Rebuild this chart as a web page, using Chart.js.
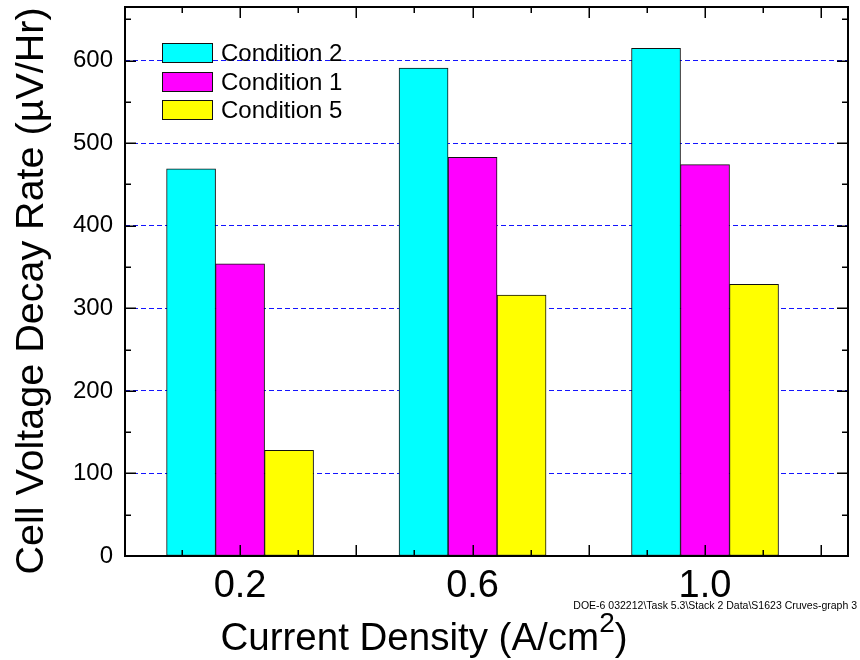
<!DOCTYPE html>
<html><head><meta charset="utf-8">
<script src="https://cdn.jsdelivr.net/npm/chart.js@4/dist/chart.umd.min.js"></script>
<style>html,body{margin:0;padding:0;background:#fff}canvas{display:block}</style>
</head><body>
<canvas id="c" width="860" height="660"></canvas>
<script>
const categories = ['0.2', '0.6', '1.0'];
const seriesNames = ['Condition 2', 'Condition 1', 'Condition 5'];
const condition2 = [469, 591, 615];
const condition1 = [354, 483, 474];
const condition5 = [128, 316, 329];
const yTickValues = [0, 100, 200, 300, 400, 500, 600];
const yTitle = 'Cell Voltage Decay Rate (\u00B5V/Hr)';
const xTitleMain = 'Current Density (A/cm';
const xTitleSup = '2';
const xTitleEnd = ')';
const footnote = 'DOE-6 032212\\Task 5.3\\Stack 2 Data\\S1623 Cruves-graph 3';

const FONT = "'Liberation Sans', Arial, Helvetica, sans-serif";
const colors = ['#00FFFF', '#FF00FF', '#FFFF00'];
const seriesValues = [condition2, condition1, condition5];

const datasets = seriesNames.map((name, k) => ({
  label: name,
  data: categories.map((c, i) => ({ x: i + 1, y: seriesValues[k][i] })),
  backgroundColor: colors[k],
  borderColor: '#111',
  borderWidth: 1,
  borderSkipped: false,
  barThickness: 49,
  grouped: true
}));

const decor = {
  id: 'decor',
  afterDatasetsDraw(chart) {
    const { ctx, chartArea: a, scales: { x, y } } = chart;
    ctx.save();
    ctx.strokeStyle = '#000';
    ctx.lineWidth = 1.5;
    const seg = (x1, y1, x2, y2) => { ctx.beginPath(); ctx.moveTo(x1, y1); ctx.lineTo(x2, y2); ctx.stroke(); };
    // y ticks (inward, both sides)
    for (let v = 50; v < y.max; v += 50) {
      const p = Math.round(y.getPixelForValue(v)) + 0.25;
      const L = v % 100 === 0 ? 11 : 6;
      seg(a.left, p, a.left + L, p);
      seg(a.right, p, a.right - L, p);
    }
    // x ticks (inward, bottom and top)
    for (let v = 0.75; v < x.max; v += 0.25) {
      const p = Math.round(x.getPixelForValue(v)) + 0.25;
      const L = Math.abs(v * 2 - Math.round(v * 2)) < 1e-6 ? 11 : 6;
      seg(p, a.bottom, p, a.bottom - L);
      seg(p, a.top, p, a.top + L);
    }
    // frame
    ctx.lineWidth = 2;
    ctx.strokeRect(a.left, a.top, a.right - a.left, a.bottom - a.top);

    // legend
    const lx = a.left + 37, ly = a.top + 36, step = 28.7;
    ctx.font = '24px ' + FONT;
    ctx.textBaseline = 'middle';
    ctx.textAlign = 'left';
    chart.data.datasets.forEach((ds, i) => {
      const by = Math.round(ly + i * step);
      ctx.fillStyle = ds.backgroundColor;
      ctx.fillRect(lx, by, 51, 20);
      ctx.lineWidth = 1;
      ctx.strokeStyle = '#111';
      ctx.strokeRect(lx + 0.5, by + 0.5, 50, 19);
      ctx.fillStyle = '#000';
      ctx.fillText(ds.label, lx + 59, by + 11);
    });

    // y title
    ctx.save();
    ctx.font = '39.5px ' + FONT;
    ctx.fillStyle = '#000';
    ctx.textAlign = 'center';
    ctx.textBaseline = 'alphabetic';
    ctx.translate(43, 291);
    ctx.rotate(-Math.PI / 2);
    ctx.fillText(yTitle, 0, 0);
    ctx.restore();

    // x title with superscript
    ctx.fillStyle = '#000';
    ctx.textBaseline = 'alphabetic';
    ctx.textAlign = 'left';
    const mainFont = '38.5px ' + FONT, supFont = '28px ' + FONT;
    ctx.font = mainFont; const w1 = ctx.measureText(xTitleMain).width; const w3 = ctx.measureText(xTitleEnd).width;
    ctx.font = supFont; const w2 = ctx.measureText(xTitleSup).width;
    let tx = 424 - (w1 + w2 + w3) / 2;
    ctx.font = mainFont; ctx.fillText(xTitleMain, tx, 650); tx += w1;
    ctx.font = supFont; ctx.fillText(xTitleSup, tx, 632); tx += w2;
    ctx.font = mainFont; ctx.fillText(xTitleEnd, tx, 650);

    // footnote
    ctx.font = '10.5px ' + FONT;
    ctx.textAlign = 'right';
    ctx.fillText(footnote, 857, 609);
    ctx.restore();
  }
};

Chart.defaults.font.family = FONT;
Chart.defaults.color = '#000';

new Chart(document.getElementById('c'), {
  type: 'bar',
  data: { datasets },
  plugins: [decor],
  options: {
    responsive: false,
    animation: false,
    devicePixelRatio: 1,
    layout: { padding: { top: 7, right: 12, left: 0, bottom: 0 }, autoPadding: false },
    plugins: { legend: { display: false }, tooltip: { enabled: false } },
    scales: {
      x: {
        type: 'linear',
        position: 'bottom',
        offset: false,
        min: 0.505,
        max: 3.615,
        afterBuildTicks: (s) => { s.ticks = categories.map((c, i) => ({ value: i + 1 })); },
        afterFit: (s) => { s.height = 104; s.paddingLeft = 0; s.paddingRight = 0; },
        grid: { display: false, drawTicks: false, offset: false },
        border: { display: false },
        ticks: {
          autoSkip: false, maxRotation: 0, minRotation: 0,
          padding: 8,
          font: { size: 38 },
          color: '#000',
          callback: (v) => categories[Math.round(v) - 1] ?? ''
        }
      },
      y: {
        type: 'linear',
        position: 'left',
        min: 0,
        max: 665,
        afterBuildTicks: (s) => { s.ticks = yTickValues.map(v => ({ value: v })); },
        afterFit: (s) => { s.width = 125; s.paddingTop = 0; s.paddingBottom = 0; },
        grid: {
          drawTicks: false,
          lineWidth: 1,
          color: (c) => (c.tick && c.tick.value > 0) ? 'rgb(20,20,255)' : 'rgba(0,0,0,0)'
        },
        border: { display: false, dash: [5, 3] },
        ticks: {
          padding: 12,
          font: { size: 24 },
          color: '#000',
          callback: (v) => String(v)
        }
      }
    }
  }
});
</script>
</body></html>
